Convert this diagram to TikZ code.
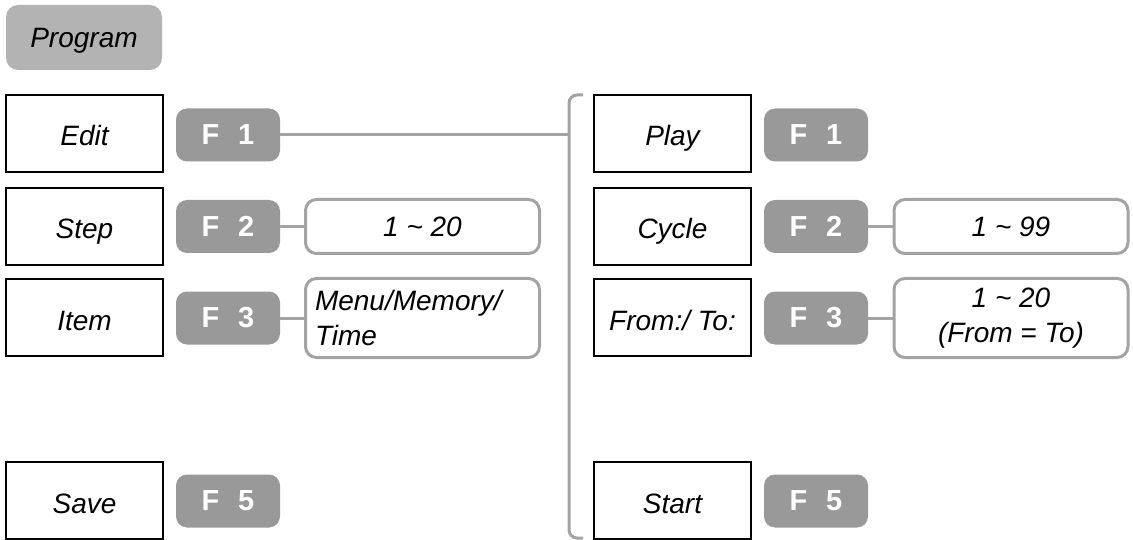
\documentclass[tikz,border=0pt]{standalone}
\usepackage{fontspec}
\setmainfont{Liberation Sans}
\definecolor{progfill}{HTML}{B3B3B3}
\definecolor{keyfill}{HTML}{999999}
\definecolor{linegray}{HTML}{A3A3A3}
\begin{document}
\begin{tikzpicture}[x=1pt,y=-1pt,
  lbl/.style={draw=black, line width=1.2pt, minimum width=157pt, minimum height=77pt, inner sep=0pt, text height=25pt, text depth=0pt, font=\fontsize{28}{32}\selectfont\itshape},
  prog/.style={fill=progfill, rounded corners=12pt, minimum width=156pt, minimum height=65pt, inner sep=0pt, text height=22pt, text depth=2pt, font=\fontsize{28}{32}\selectfont\itshape},
  fkey/.style={fill=keyfill, rounded corners=11pt, minimum width=104pt, minimum height=53pt, inner sep=0pt, text=white, font=\fontsize{29}{32}\selectfont\bfseries},
  valbox/.style={draw=linegray, line width=3pt, rounded corners=11pt, minimum width=234pt, inner sep=0pt, font=\fontsize{28}{35}\selectfont\itshape},
  conn/.style={draw=linegray, line width=3pt}]
\useasboundingbox (0,0) rectangle (1133,540);

\node[prog] (prog) at (84,37.5) {Program};

% left column
\node[lbl] (edit) at (84.5,133.5) {Edit};
\node[lbl] (step) at (84.5,226.5) {Step};
\node[lbl] (item) at (84.5,317.5) {Item};
\node[lbl] (save) at (84.5,500.5) {Save};

\node[fkey] (lf1) at (228,135) {F\hspace{0.65em}1};
\node[fkey] (lf2) at (228,226.5) {F\hspace{0.65em}2};
\node[fkey] (lf3) at (228,318) {F\hspace{0.65em}3};
\node[fkey] (lf5) at (228,501) {F\hspace{0.65em}5};

\node[valbox, minimum height=54pt] (lv2) at (422.5,226.5) {1 \char`\~{} 20};
\node[valbox, minimum height=79pt, text width=215pt, align=left] (lv3) at (422.5,318) {Menu/Memory/\\Time};

\draw[conn] (lf2.east) -- (lv2.west);
\draw[conn] (lf3.east) -- (lv3.west);

% bracket
\coordinate (bt) at (583,95);
\coordinate (bv) at (569,95);
\coordinate (bvb) at (569,538);
\coordinate (bb) at (583,538);
\draw[conn, rounded corners=8pt] (bt) -- (bv) -- (bvb) -- (bb);
\draw[conn] (lf1.east) -- (lf1.east -| bv);

% right column
\node[lbl] (play) at (672.5,133.5) {Play};
\node[lbl] (cycle) at (672.5,226.5) {Cycle};
\node[lbl] (from) at (672.5,317.5) {From:/ To:};
\node[lbl] (start) at (672.5,500.5) {Start};

\node[fkey] (rf1) at (816,135) {F\hspace{0.65em}1};
\node[fkey] (rf2) at (816,226.5) {F\hspace{0.65em}2};
\node[fkey] (rf3) at (816,318) {F\hspace{0.65em}3};
\node[fkey] (rf5) at (816,501) {F\hspace{0.65em}5};

\node[valbox, minimum height=54pt] (rv2) at (1011,226.5) {1 \char`\~{} 99};
\node[valbox, minimum height=79pt, align=center] (rv3) at (1011,318) {1 \char`\~{} 20\\(From = To)};

\draw[conn] (rf2.east) -- (rv2.west);
\draw[conn] (rf3.east) -- (rv3.west);
\end{tikzpicture}
\end{document}
